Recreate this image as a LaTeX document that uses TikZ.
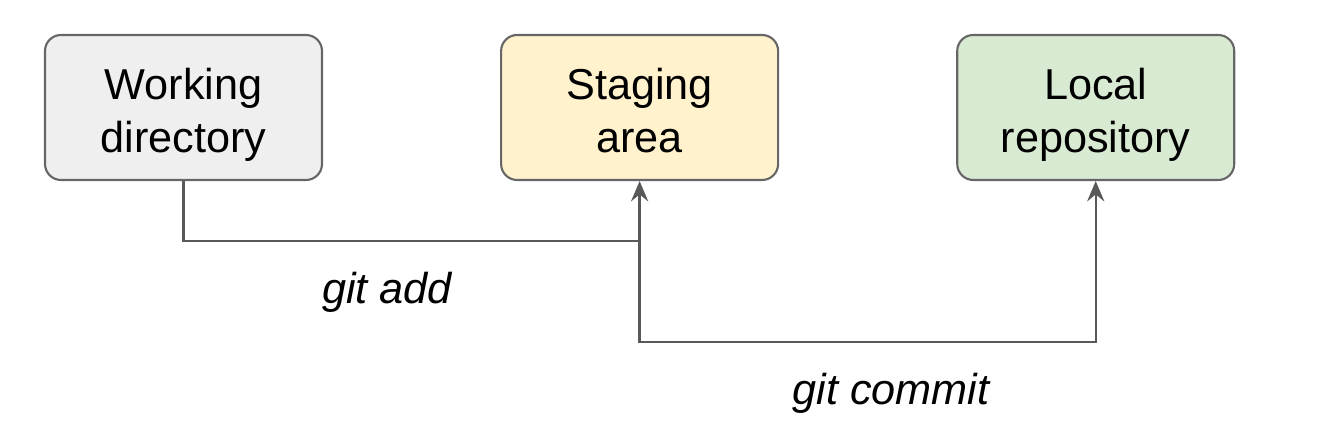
\documentclass[tikz,border=0pt]{standalone}
\usepackage{fontspec}
\setmainfont{Liberation Sans}
\usetikzlibrary{arrows.meta}
\usetikzlibrary{positioning}

\definecolor{wdfill}{HTML}{EFEFEF}
\definecolor{safill}{HTML}{FFF2CC}
\definecolor{lrfill}{HTML}{D9EAD3}
\definecolor{boxline}{HTML}{666666}
\definecolor{arrline}{HTML}{595959}

\tikzset{
  area/.style={draw=boxline, line width=0.6pt, rounded corners=0.16cm,
    minimum width=2.77cm, minimum height=1.45cm, align=center, text depth=0pt,
    font=\fontsize{12.3}{15}\selectfont},
  flow/.style={-{Stealth[length=5.8pt,width=4.9pt,inset=2pt]}, draw=arrline, line width=0.65pt},
  cmd/.style={font=\fontsize{12.3}{15}\selectfont\itshape}
}

\begin{document}
\begin{tikzpicture}
 \useasboundingbox (0,0) rectangle (13.34,-4.40);

 %boxes
 \node[area, fill=wdfill] (wd) at (1.835,-1.075) {Working\strut\\directory\strut};
 \node[area, fill=safill, right=1.77cm of wd] (sa) {Staging\strut\\area\strut};
 \node[area, fill=lrfill, right=1.77cm of sa] (lr) {Local\strut\\repository\strut};

 %git add
 \draw[flow] (wd.south) -- ++(0,-0.60) -| (sa.south);
 \path (sa.south) ++(0,-0.60) coordinate (split);
 \node[cmd] (add) at (3.87,-2.92) {git add};

 %git commit
 \draw[flow] (split) -- ++(0,-1.01) -| (lr.south);
 \node[cmd] (commit) at (8.91,-3.93) {git commit};

\end{tikzpicture}
\end{document}
